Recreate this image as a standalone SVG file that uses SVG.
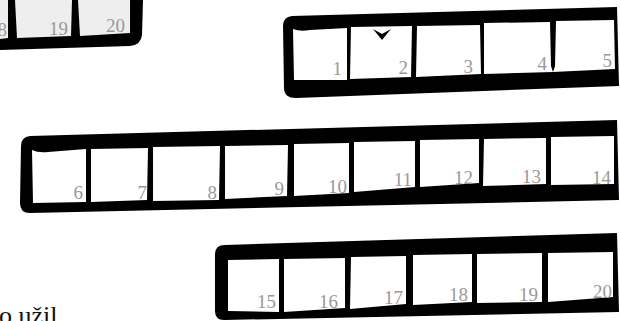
<svg xmlns="http://www.w3.org/2000/svg" width="620" height="321" viewBox="0 0 620 321">
<style>
.frame{fill:#000}
.cell{fill:#fff}
.gcell{fill:#eeeeee}
.lbl{font-family:"Liberation Serif","Times New Roman",serif;font-size:19px;fill:#999;text-anchor:end}
.txt{font-family:"Liberation Serif","Times New Roman",serif;font-size:26px;fill:#111}
</style>
<rect width="620" height="321" fill="#fff"/>

<g id="row0">
  <path class="frame" d="M0,0 L143,0 L142,35 Q141,45 130,46 L0,50 Z"/>
  <g id="cell18top"><polygon class="gcell" points="0,0 8,0 8,38 0,39"/><text class="lbl" x="7" y="36">8</text></g>
  <g id="cell19top"><polygon class="gcell" points="15,0 72,0 71,36 17,38"/><text class="lbl" x="68" y="35">19</text></g>
  <g id="cell20top"><polygon class="gcell" points="78,0 130,0 130,33 80,36"/><text class="lbl" x="125" y="32">20</text></g>
</g>

<g id="row1">
  <path class="frame" d="M292,16 L617,7 L619,86 L296,98 Q284,98 284,88 L283,26 Q283,17 292,16 Z"/>
  <g id="cell1"><path class="cell" d="M293,29 Q300,32 310,30 L347,28 L347,80 L294,80 Z"/><text class="lbl" x="342" y="75">1</text></g>
  <g id="cell2"><polygon class="cell" points="351,27 412,26 411,77 350,79"/><text class="lbl" x="408" y="74">2</text>
    <polygon points="373,29 382,34 391,29 382,40" fill="#000"/></g>
  <g id="cell3"><polygon class="cell" points="417,26 480,25 481,74 416,77"/><text class="lbl" x="473" y="73">3</text></g>
  <g id="cell4"><polygon class="cell" points="484,23 550,22 551,66 553,72 484,74"/><text class="lbl" x="547" y="70">4</text></g>
  <g id="cell5"><polygon class="cell" points="556,21 614,20 615,69 553,72 555,66"/><text class="lbl" x="612" y="67">5</text></g>
</g>

<g id="row2">
  <path class="frame" d="M30,136 L617,120 L619,200 L30,213 Q20,213 20,203 L21,146 Q21,137 30,136 Z"/>
  <g id="cell6"><path class="cell" d="M32,150 Q38,153 48,152 L86,149 L86,202 L33,203 Z"/><text class="lbl" x="83" y="199">6</text></g>
  <g id="cell7"><polygon class="cell" points="91,149 148,148 147,200 91,202"/><text class="lbl" x="147" y="199">7</text></g>
  <g id="cell8"><polygon class="cell" points="153,147 220,146 219,200 153,201"/><text class="lbl" x="217" y="199">8</text></g>
  <g id="cell9"><polygon class="cell" points="225,146 288,145 287,196 225,199"/><text class="lbl" x="284" y="195">9</text></g>
  <g id="cell10"><polygon class="cell" points="294,144 349,143 349,193 294,196"/><text class="lbl" x="347" y="193">10</text></g>
  <g id="cell11"><polygon class="cell" points="354,142 415,141 415,187 354,192"/><text class="lbl" x="412" y="186">11</text></g>
  <g id="cell12"><polygon class="cell" points="420,140 479,139 479,183 420,187"/><text class="lbl" x="473" y="184">12</text></g>
  <g id="cell13"><polygon class="cell" points="484,139 546,138 546,184 483,186"/><text class="lbl" x="541" y="183">13</text></g>
  <g id="cell14"><polygon class="cell" points="551,137 614,136 614,184 551,185"/><text class="lbl" x="611" y="184">14</text></g>
</g>

<g id="row3">
  <path class="frame" d="M225,245 L617,233 L619,312 L224,320 Q215,320 215,311 L215,254 Q215,245 225,245 Z"/>
  <g id="cell15"><polygon class="cell" points="228,260 279,259 279,312 228,311"/><text class="lbl" x="276" y="308">15</text></g>
  <g id="cell16"><polygon class="cell" points="284,259 345,258 345,308 284,312"/><text class="lbl" x="338" y="308">16</text></g>
  <g id="cell17"><polygon class="cell" points="351,257 406,256 406,304 350,309"/><text class="lbl" x="403" y="304">17</text></g>
  <g id="cell18"><polygon class="cell" points="413,255 472,254 472,302 413,305"/><text class="lbl" x="468" y="301">18</text></g>
  <g id="cell19"><polygon class="cell" points="477,254 542,253 542,302 477,303"/><text class="lbl" x="538" y="301">19</text></g>
  <g id="cell20"><polygon class="cell" points="548,253 613,252 613,297 548,302"/><text class="lbl" x="612" y="298">20</text></g>
</g>

<g id="connectors"></g>

<text class="txt" x="-1" y="324">o užil</text>
</svg>
